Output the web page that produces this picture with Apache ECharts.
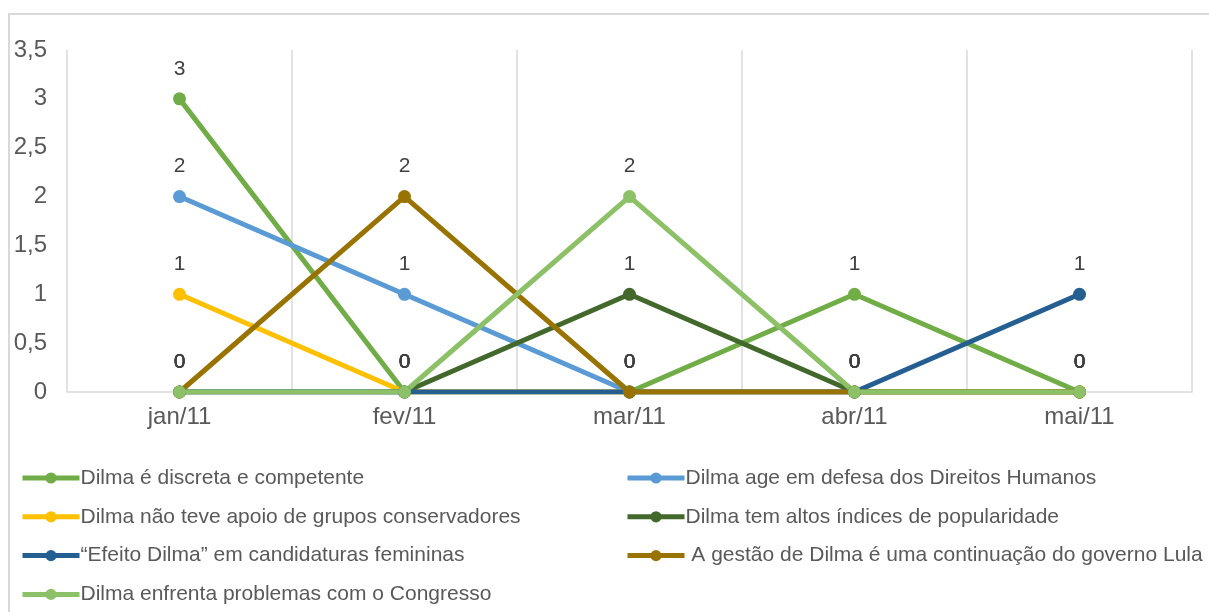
<!DOCTYPE html>
<html>
<head>
<meta charset="utf-8">
<script src="https://cdn.jsdelivr.net/npm/echarts@6/dist/echarts.min.js"></script>
<style>
  html, body { margin: 0; padding: 0; background: #fff; overflow: hidden; }
  #frame { position: absolute; left: 8px; top: 13px; width: 1300px; height: 700px; border: 2px solid #D9D9D9; }
  #chart { position: absolute; left: 0; top: 0; width: 1209px; height: 612px; }
</style>
</head>
<body>
<div id="frame"></div>
<div id="chart"></div>
<script>
  // meses
  const months = ['jan/11', 'fev/11', 'mar/11', 'abr/11', 'mai/11'];

  // valores por série
  const discreta = [3, 0, 0, 1, 0];
  const direitosHumanos = [2, 1, 0, 0, 0];
  const semApoio = [1, 0, 0, 0, 0];
  const popularidade = [0, 0, 1, 0, 0];
  const efeitoDilma = [0, 0, 0, 0, 1];
  const gestaoLula = [0, 2, 0, 0, 0];
  const congresso = [0, 0, 2, 0, 0];

  const names = [
    'Dilma é discreta e competente',
    'Dilma age em defesa dos Direitos Humanos',
    'Dilma não teve apoio de grupos conservadores',
    'Dilma tem altos índices de popularidade',
    '“Efeito Dilma” em candidaturas femininas',
    ' A gestão de Dilma é uma continuação do governo Lula',
    'Dilma enfrenta problemas com o Congresso'
  ];
  const values = [discreta, direitosHumanos, semApoio, popularidade, efeitoDilma, gestaoLula, congresso];
  const colors = ['#70AD47', '#5B9BD5', '#FFC000', '#43682B', '#255E91', '#997300', '#8CC168'];

  const font = '"Liberation Sans", Arial, sans-serif';

  const chart = echarts.init(document.getElementById('chart'));

  const legendBase = {
    orient: 'vertical',
    top: 467,
    height: 145,
    padding: 0,
    itemWidth: 57,
    itemHeight: 14,
    itemGap: 16.8,
    lineStyle: { width: 5 },
    textStyle: { color: '#595959', fontSize: 21, lineHeight: 22, fontFamily: font, padding: [0, 0, 0, -4] }
  };

  chart.setOption({
    animation: false,
    color: colors,
    grid: { left: 67, right: 17, top: 50, bottom: 220 },
    legend: [
      Object.assign({}, legendBase, { left: 20, data: [names[0], names[2], names[4], names[6]] }),
      Object.assign({}, legendBase, { left: 625, data: [names[1], names[3], names[5]] })
    ],
    xAxis: {
      type: 'category',
      data: months,
      boundaryGap: true,
      axisLine: { lineStyle: { color: '#D9D9D9', width: 1.5 } },
      axisTick: { show: false },
      splitLine: { show: true, lineStyle: { color: '#D9D9D9', width: 1.5 } },
      axisLabel: { color: '#595959', fontSize: 24, fontFamily: font, margin: 13 }
    },
    yAxis: {
      type: 'value',
      min: 0,
      max: 3.5,
      interval: 0.5,
      axisLine: { show: false },
      axisTick: { show: false },
      splitLine: { show: false },
      axisLabel: {
        color: '#595959', fontSize: 24, fontFamily: font, margin: 20,
        formatter: function (v) { return String(v).replace('.', ','); }
      }
    },
    series: names.map(function (n, i) {
      return {
        name: n,
        type: 'line',
        data: values[i],
        symbol: 'circle',
        symbolSize: 13,
        lineStyle: { width: 5, color: colors[i] },
        itemStyle: { color: colors[i] },
        label: {
          show: true,
          position: 'top',
          distance: 13,
          color: '#404040',
          fontSize: 21,
          fontFamily: font
        }
      };
    })
  });
</script>
</body>
</html>
